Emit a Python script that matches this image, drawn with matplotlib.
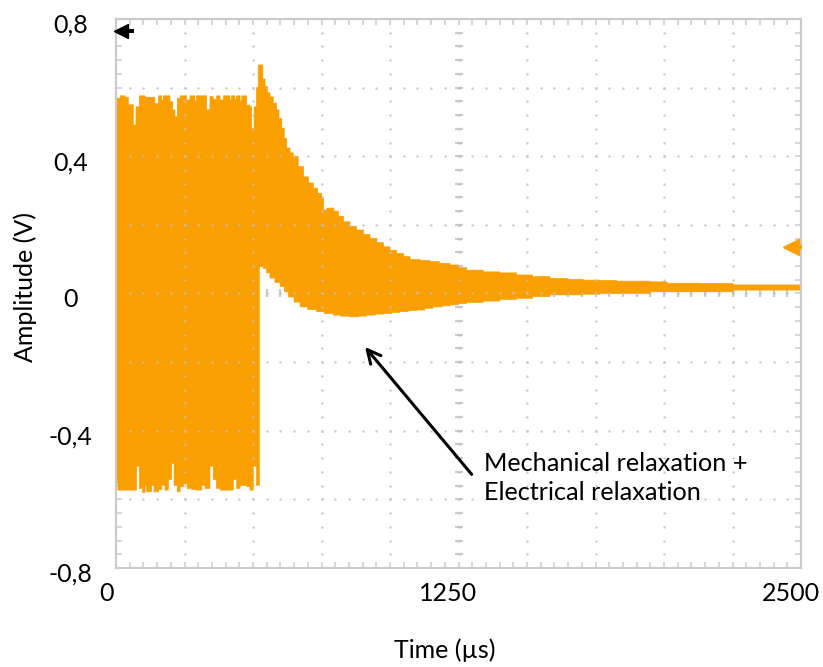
import numpy as np
import matplotlib
matplotlib.use("Agg")
import matplotlib.pyplot as plt
from matplotlib.ticker import MultipleLocator, FixedLocator
from matplotlib.transforms import ScaledTranslation

plt.rcParams['font.family'] = ['Lato', 'DejaVu Sans']

# ---------------- data ----------------
x_ticks = [0, 1250, 2500]
x_tick_labels = ["0", "1250", "2500"]
y_ticks = [-0.8, -0.4, 0.0, 0.4, 0.8]
y_tick_labels = ["-0,8", "-0,4", "0", "0,4", "0,8"]

# upper envelope of the oscillating signal: segment start times (us) and levels (V)
upper_t = [0, 15, 33, 45, 63, 73, 85, 106, 142, 155,
           167, 173, 197, 207, 215, 224, 234, 258, 270, 288,
           294, 331, 343, 355, 367, 380, 392, 416, 422, 434,
           440, 453, 459, 477, 489, 495, 504, 513, 519, 536,
           544, 553, 562, 574, 586, 595, 605, 614, 623, 635,
           647, 665, 684, 702, 720, 736, 751, 757, 770, 795,
           812, 830, 854, 878, 903, 927, 952, 976, 1000, 1024,
           1049, 1073, 1110, 1146, 1180, 1219, 1250, 1280, 1340, 1400,
           1462, 1520, 1584, 1650, 1705, 1766, 1827, 1949, 2011, 2130,
           2252, 2400]
upper_v = [0.569, 0.576, 0.572, 0.550, 0.491, 0.544, 0.576, 0.572, 0.554, 0.576,
           0.564, 0.576, 0.559, 0.535, 0.515, 0.569, 0.576, 0.564, 0.576, 0.561,
           0.576, 0.535, 0.574, 0.566, 0.576, 0.564, 0.576, 0.564, 0.576, 0.566,
           0.576, 0.561, 0.576, 0.549, 0.544, 0.481, 0.544, 0.600, 0.666, 0.625,
           0.603, 0.585, 0.573, 0.555, 0.535, 0.510, 0.482, 0.452, 0.424, 0.410,
           0.399, 0.370, 0.340, 0.322, 0.307, 0.292, 0.278, 0.243, 0.249, 0.240,
           0.225, 0.209, 0.196, 0.185, 0.172, 0.161, 0.148, 0.136, 0.126, 0.117,
           0.108, 0.099, 0.096, 0.093, 0.088, 0.083, 0.075, 0.068, 0.063, 0.060,
           0.054, 0.049, 0.044, 0.041, 0.039, 0.038, 0.036, 0.034, 0.030, 0.029,
           0.025, 0.025]

# lower envelope
lower_t = [0, 7, 75, 85, 97, 106, 112, 130, 139, 155,
           167, 179, 191, 203, 212, 224, 234, 246, 260, 276,
           294, 313, 325, 343, 355, 367, 380, 428, 440, 453,
           477, 489, 501, 513, 523, 538, 550, 562, 580, 599,
           615, 629, 650, 672, 700, 732, 760, 793, 820, 854,
           885, 915, 946, 976, 1006, 1036, 1066, 1097, 1127, 1157,
           1190, 1219, 1250, 1280, 1340, 1400, 1462, 1520, 1584, 1705,
           1766, 1949, 2252]
lower_v = [-0.552, -0.573, -0.503, -0.568, -0.580, -0.559, -0.578, -0.559, -0.578, -0.571,
           -0.559, -0.573, -0.542, -0.495, -0.559, -0.578, -0.563, -0.555, -0.568, -0.571,
           -0.573, -0.559, -0.568, -0.503, -0.542, -0.568, -0.573, -0.542, -0.568, -0.559,
           -0.563, -0.573, -0.503, -0.559, 0.078, 0.073, 0.060, 0.045, 0.032, 0.020,
           0.005, -0.010, -0.025, -0.039, -0.047, -0.053, -0.058, -0.063, -0.066, -0.068,
           -0.066, -0.063, -0.060, -0.058, -0.055, -0.053, -0.050, -0.048, -0.043, -0.039,
           -0.036, -0.033, -0.029, -0.026, -0.022, -0.017, -0.014, -0.009, -0.004, -0.002,
           0.000, 0.005, 0.010]
t_end = 2496

ref_marker_level = 0.766   # black marker, top left
trigger_level = 0.136      # orange marker, right side

annotation_text = "Mechanical relaxation +\nElectrical relaxation"
annotation_target = (909, -0.156)
annotation_source = (1298, -0.527)

ORANGE = "#F9A000"
GRID = "#c0c0c0"
FRAME = "#cbcbcb"

# ---------------- figure ----------------
fig = plt.figure(figsize=(8.23, 6.67), dpi=100)
W, H = 823, 667
ax = fig.add_axes([116 / W, (H - 568) / H, (801 - 116) / W, (568 - 19) / H])
ax.set_xlim(0, 2500)
ax.set_ylim(-0.8, 0.8)

# common step edges for both envelopes (step lookup, no interpolation)
edges = np.union1d(np.union1d(upper_t, lower_t), [t_end]).astype(float)
starts = edges[:-1]
up_vals = np.asarray(upper_v)[np.searchsorted(upper_t, starts, side='right') - 1]
lo_vals = np.asarray(lower_v)[np.searchsorted(lower_t, starts, side='right') - 1]
ax.stairs(up_vals, edges, baseline=lo_vals, fill=True, facecolor=ORANGE,
          edgecolor=ORANGE, linewidth=0.5, snap=False, zorder=2)

# ---------------- oscilloscope graticule ----------------
minor_t = np.arange(50, 2500, 50)
minor_v = np.arange(-0.76, 0.77, 0.04)
div_t = [250, 500, 750, 1000, 1250, 1500, 1750, 2000, 2250]
div_v = [-0.6, -0.4, -0.2, 0.0, 0.2, 0.4, 0.6]
# centre cross with small dashes (beneath the trace)
ax.plot(np.full_like(minor_v, 1250), minor_v, ls='none', marker='_', ms=6,
        mew=1.6, color=FRAME, zorder=1)
ax.plot(minor_t, np.zeros_like(minor_t, dtype=float), ls='none', marker='|', ms=6,
        mew=1.6, color=FRAME, zorder=1)
# dotted division lines (above the trace)
for t in div_t:
    ax.plot(np.full_like(minor_v, t), minor_v, ls='none', marker='s', ms=1.7,
            mec='none', mfc=GRID, zorder=3)
for v in div_v:
    ax.plot(minor_t, np.full_like(minor_t, v, dtype=float), ls='none', marker='s',
            ms=1.7, mec='none', mfc=GRID, zorder=3)

# frame
for s in ax.spines.values():
    s.set_color(FRAME)
    s.set_linewidth(1.6)
ax.xaxis.set_major_locator(FixedLocator(x_ticks))
ax.set_xticklabels(x_tick_labels)
ax.yaxis.set_major_locator(FixedLocator(y_ticks))
ax.set_yticklabels(y_tick_labels)
ax.xaxis.set_minor_locator(MultipleLocator(50))
ax.yaxis.set_minor_locator(MultipleLocator(0.04))
ax.tick_params(which='both', direction='in', length=4.5, width=1.1, color=FRAME,
               top=True, right=True, labelsize=18, labelcolor='black')
ax.tick_params(axis='x', which='major', pad=10)
ax.tick_params(axis='y', which='major', pad=33)
for lab in ax.get_xticklabels():
    lab.set_transform(lab.get_transform() + ScaledTranslation(-0.10, 0, fig.dpi_scale_trans))
for lab in ax.get_yticklabels():
    lab.set_horizontalalignment('center')
    lab.set_transform(lab.get_transform() + ScaledTranslation(0, -0.045, fig.dpi_scale_trans))

# trace markers
ax.plot([18, 66], [ref_marker_level, ref_marker_level], color='black', lw=2.8,
        solid_capstyle='butt', zorder=4, clip_on=False)
ax.plot([20], [ref_marker_level], marker='<', ms=10.5, color='black', zorder=4, clip_on=False)
ax.plot([2460, 2502], [trigger_level, trigger_level], color=ORANGE, lw=2.6,
        solid_capstyle='butt', zorder=4, clip_on=False)
ax.plot([2462], [trigger_level], marker='<', ms=11, color=ORANGE, zorder=4, clip_on=False)

# annotation
ax.annotate("", xy=annotation_target, xytext=annotation_source,
            arrowprops=dict(arrowstyle='->', color='black', lw=2.2,
                            mutation_scale=24, shrinkA=0, shrinkB=0), zorder=5)
fig.text(484 / W, 1 - 478 / H, annotation_text, fontsize=18.2, ha='left',
         va='center', linespacing=1.3)

# axis titles
fig.text(445 / W, 1 - 650 / H, "Time (\u00b5s)", fontsize=18, ha='center', va='center')
fig.text(25 / W, 1 - 287 / H, "Amplitude (V)", fontsize=18, ha='center', va='center',
         rotation=90)

fig.savefig("out.png", dpi=100)
